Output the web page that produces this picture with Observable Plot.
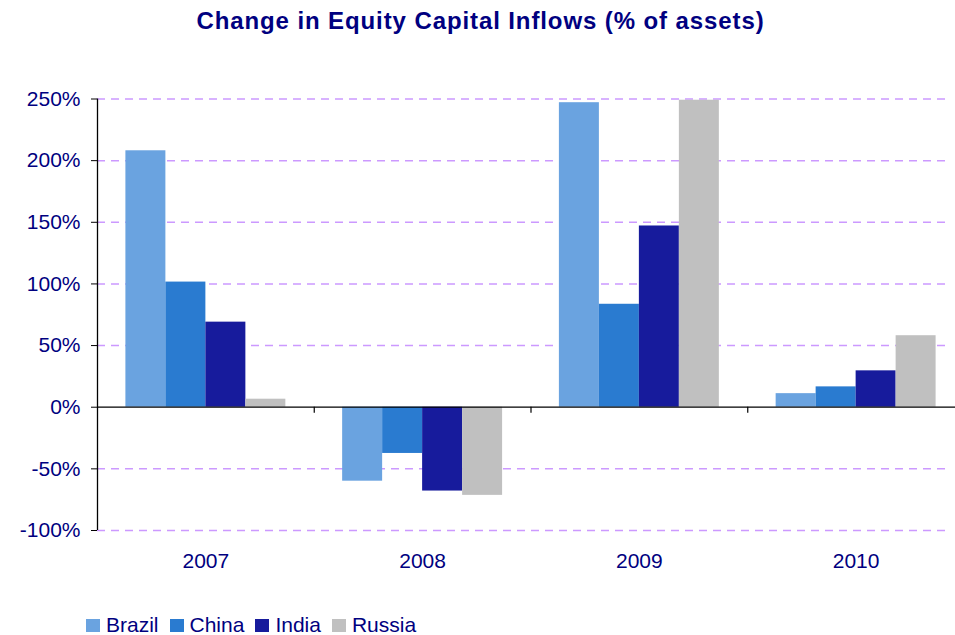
<!DOCTYPE html>
<html>
<head>
<meta charset="utf-8">
<script src="https://cdn.jsdelivr.net/npm/d3@7"></script>
<script src="https://cdn.jsdelivr.net/npm/@observablehq/plot@0.6"></script>
<style>
html, body { margin: 0; padding: 0; background: #fff; overflow: hidden; }
#wrap { position: relative; width: 955px; height: 635px; font-family: "Liberation Sans", Arial, sans-serif; }
#title { position: absolute; left: 3px; top: 9px; width: 955px; text-align: center; font-size: 24px; line-height: 24px; font-weight: bold; color: #000080; letter-spacing: 0.9px; white-space: nowrap; }
#chart { position: absolute; left: 0; top: 60px; }
#legend { position: absolute; left: 86px; top: 614px; font-size: 21px; line-height: 21px; color: #000080; white-space: nowrap; }
#legend .item { display: inline-block; margin-right: 11px; }
#legend .sw { display: inline-block; width: 14px; height: 13px; margin-right: 6px; vertical-align: baseline; }
</style>
</head>
<body>
<div id="wrap">
  <div id="title">Change in Equity Capital Inflows (% of assets)</div>
  <div id="chart"></div>
  <div id="legend"></div>
</div>
<script>
const years = ["2007", "2008", "2009", "2010"];
const countries = ["Brazil", "China", "India", "Russia"];
const brazil = [208, -60, 247, 11];
const china = [101.5, -37.5, 83.5, 16.5];
const india = [69, -68, 147, 29.5];
const russia = [6.5, -71.5, 249, 58];
const colors = ["#6aa3e0", "#2a7bd0", "#171b9c", "#c0c0c0"];
const yTicks = [-100, -50, 0, 50, 100, 150, 200, 250];

const series = [brazil, china, india, russia];
const rows = years.flatMap((year, yi) =>
  countries.map((country, ci) => ({ year, country, value: series[ci][yi] }))
);

// position of each country bar inside its year category (category = 1 unit on x)
const inner = d3.scaleBand().domain(countries).range([0, 1]).paddingInner(0).paddingOuter(0.71);
const xStart = d => years.indexOf(d.year) + inner(d.country);

const chart = Plot.plot({
  width: 955,
  height: 520,
  marginLeft: 97,
  marginRight: 5,
  marginTop: 38.5,
  marginBottom: 50,
  style: { fontFamily: '"Liberation Sans", Arial, sans-serif', fontSize: "21px", color: "#000080", background: "transparent", overflow: "visible" },
  x: { domain: [0, years.length], range: [97, 964] },
  y: { domain: [-100, 250] },
  color: { domain: countries, range: colors },
  marks: [
    Plot.ruleY(yTicks.filter(d => d !== 0), { stroke: "#cc99ff", strokeWidth: 1.5, strokeDasharray: "8,6" }),
    Plot.rectY(rows, { x1: xStart, x2: d => xStart(d) + inner.bandwidth(), y1: 0, y2: "value", fill: "country" }),
    Plot.ruleY([0], { x1: 0, x2: years.length, stroke: "black", strokeWidth: 1.3 }),
    Plot.ruleX([0], { y1: -100, y2: 250, stroke: "black", strokeWidth: 1.3 }),
    Plot.ruleX(d3.range(1, years.length + 1), { y1: 0, y2: 0, insetBottom: -6, stroke: "black", strokeWidth: 1.2 }),
    Plot.axisY({ ticks: yTicks, tickFormat: d => d + "%", tickSize: 6, tickPadding: 11, stroke: "black", label: null, fontSize: 21 }),
    Plot.axisX({ ticks: years.map((_, i) => i + 0.5), tickFormat: d => years[Math.floor(d)], tickSize: 0, tickPadding: 23, label: null, fontSize: 21 })
  ]
});
document.getElementById("chart").appendChild(chart);

const legend = document.getElementById("legend");
countries.forEach((c, i) => {
  const item = document.createElement("span");
  item.className = "item";
  const sw = document.createElement("span");
  sw.className = "sw";
  sw.style.background = colors[i];
  item.appendChild(sw);
  item.appendChild(document.createTextNode(c));
  legend.appendChild(item);
});
</script>
</body>
</html>
